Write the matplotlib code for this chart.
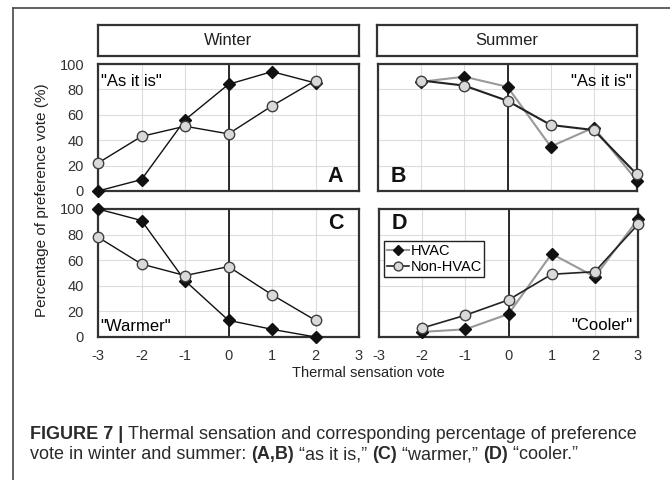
import matplotlib
matplotlib.use("Agg")
import matplotlib.pyplot as plt
from matplotlib.lines import Line2D
from matplotlib.text import Annotation

plt.rcParams['font.family'] = ['Liberation Sans', 'DejaVu Sans']
plt.rcParams['axes.unicode_minus'] = False

# data
winter_x = [-3, -2, -1, 0, 1, 2]
summer_x = [-2, -1, 0, 1, 2, 3]

winter_asis_hvac = [0, 9, 56, 84, 94, 85]
winter_asis_non = [22, 43, 51, 45, 67, 87]
winter_warmer_hvac = [100, 91, 44, 13, 6, 0]
winter_warmer_non = [78, 57, 48, 55, 33, 13]

summer_asis_hvac = [86, 90, 82, 35, 50, 8]
summer_asis_non = [87, 83, 71, 52, 48, 13]
summer_cooler_hvac = [4, 6, 18, 65, 47, 92]
summer_cooler_non = [7, 17, 29, 49, 51, 88]

xticks = [-3, -2, -1, 0, 1, 2, 3]
yticks = [0, 20, 40, 60, 80, 100]

W, H = 670, 480
fig = plt.figure(figsize=(W / 100, H / 100), dpi=100)


def px_axes(x0, y0, x1, y1):
    return fig.add_axes([x0 / W, 1 - y1 / H, (x1 - x0) / W, (y1 - y0) / H])


def style(ax, show_x, show_y):
    ax.set_xlim(-3, 3)
    ax.set_ylim(0, 100)
    ax.set_xticks(xticks)
    ax.set_yticks(yticks)
    ax.grid(True, color='#dcdcdc', lw=0.8)
    ax.set_axisbelow(True)
    ax.axvline(0, color='#1a1a1a', lw=1.3, zorder=2)
    for s in ax.spines.values():
        s.set_color('#333333')
        s.set_linewidth(1.6)
    ax.tick_params(length=0, labelsize=10.5, colors='#333333', pad=9)
    ax.tick_params(axis='y', pad=10)
    if not show_x:
        ax.set_xticklabels([])
    if not show_y:
        ax.set_yticklabels([])


hv = dict(marker='D', ms=5.8, mfc='#111111', mec='#111111', clip_on=False, zorder=3)
nh = dict(marker='o', ms=7.5, mfc='#d9d9d9', mec='#404040', mew=1, clip_on=False, zorder=4)

axA = px_axes(98, 64, 359, 191)
axB = px_axes(378, 64, 637, 191)
axC = px_axes(98, 209, 359, 337)
axD = px_axes(379, 209, 638, 337)

style(axA, False, True)
style(axB, False, False)
style(axC, True, True)
style(axD, True, False)

axA.plot(winter_x, winter_asis_hvac, color='#111111', lw=1, **hv)
axA.plot(winter_x, winter_asis_non, color='#111111', lw=1, **nh)
axC.plot(winter_x, winter_warmer_hvac, color='#111111', lw=1, **hv)
axC.plot(winter_x, winter_warmer_non, color='#111111', lw=1, **nh)

axB.plot(summer_x, summer_asis_hvac, color='#999999', lw=1.5, **hv)
axB.plot(summer_x, summer_asis_non, color='#222222', lw=1.5, **nh)
l1, = axD.plot(summer_x, summer_cooler_hvac, color='#999999', lw=1.5, **hv)
l2, = axD.plot(summer_x, summer_cooler_non, color='#222222', lw=1.2, **nh)

# panel texts
axA.text(0.01, 0.86, '"As it is"', transform=axA.transAxes, fontsize=12, va='center', ha='left')
axB.text(0.98, 0.86, '"As it is"', transform=axB.transAxes, fontsize=12, va='center', ha='right')
axC.text(0.01, 0.08, '"Warmer"', transform=axC.transAxes, fontsize=12, va='center', ha='left')
axD.text(0.98, 0.09, '"Cooler"', transform=axD.transAxes, fontsize=12, va='center', ha='right')

bold = dict(fontsize=15.5, fontweight='bold', color='#111111')
axA.text(0.94, 0.03, 'A', transform=axA.transAxes, ha='right', va='bottom', **bold)
axB.text(0.05, 0.03, 'B', transform=axB.transAxes, ha='left', va='bottom', **bold)
axC.text(0.94, 0.97, 'C', transform=axC.transAxes, ha='right', va='top', **bold)
axD.text(0.05, 0.97, 'D', transform=axD.transAxes, ha='left', va='top', **bold)

leg = axD.legend([l1, l2], ['HVAC', 'Non-HVAC'], loc='upper left',
                 bbox_to_anchor=(384 / W, 1 - 241 / H), bbox_transform=fig.transFigure,
                 fontsize=10.5, handlelength=1.5, handletextpad=0.1, borderpad=0.2,
                 labelspacing=0.15, borderaxespad=0, fancybox=False, framealpha=1,
                 edgecolor='#222222', markerscale=0.85)
leg.get_frame().set_linewidth(1)

# facet strips
for x0, x1, label in [(98, 359, 'Winter'), (377, 637, 'Summer')]:
    sa = px_axes(x0, 25, x1, 56)
    sa.set_xticks([])
    sa.set_yticks([])
    for s in sa.spines.values():
        s.set_color('#333333')
        s.set_linewidth(1.6)
    sa.text(0.5, 0.5, label, transform=sa.transAxes, ha='center', va='center',
            fontsize=12, color='#222222')

fig.text(368 / W, 1 - 373 / H, 'Thermal sensation vote', ha='center', va='center',
         fontsize=10.5, color='#222222')
fig.text(42 / W, 1 - 200 / H, 'Percentage of preference vote (%)', ha='center', va='center',
         rotation=90, fontsize=11, color='#222222')

# outer frame
fig.add_artist(Line2D([13 / W, 13 / W], [0, 1 - 8 / H], color='#555555', lw=1.3,
                      transform=fig.transFigure))
fig.add_artist(Line2D([13 / W, 1], [1 - 8 / H, 1 - 8 / H], color='#555555', lw=1.3,
                      transform=fig.transFigure))

# caption, built from regular and bold pieces
cap_size = 13


def chain(pieces, x, y):
    last = fig.text(x / W, 1 - y / H, pieces[0][0], fontsize=cap_size,
                    fontweight=pieces[0][1], ha='left', va='bottom', color='#2a2a2a')
    for txt, w in pieces[1:]:
        last = fig.add_artist(Annotation(
            txt, xy=(1, 0), xycoords=last, ha='left', va='bottom',
            fontsize=cap_size, fontweight=w, color='#2a2a2a', annotation_clip=False))


chain([('FIGURE 7 | ', 'bold'),
       ('Thermal sensation and corresponding percentage of preference', 'normal')], 30, 443)
chain([('vote in winter and summer: ', 'normal'), ('(A,B)', 'bold'),
       (' \u201cas it is,\u201d ', 'normal'), ('(C)', 'bold'),
       (' \u201cwarmer,\u201d ', 'normal'), ('(D)', 'bold'),
       (' \u201ccooler.\u201d', 'normal')], 30, 463)

fig.savefig('out.png', dpi=100)
